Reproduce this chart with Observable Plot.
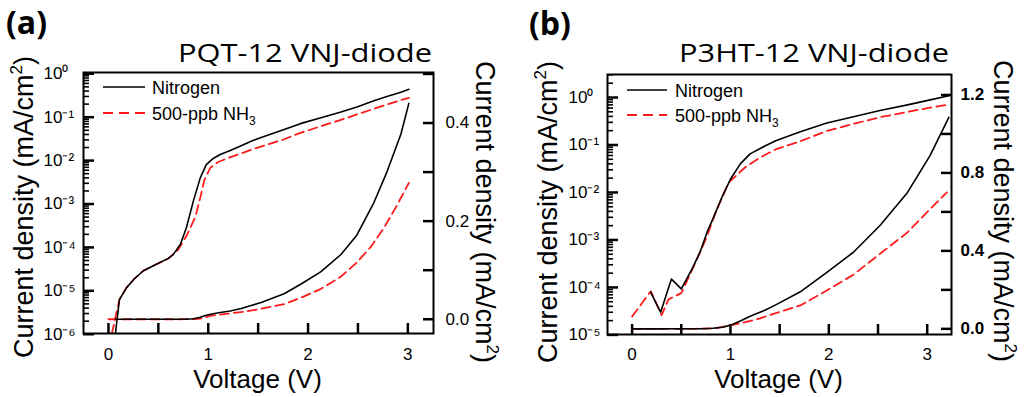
<!DOCTYPE html>
<html><head><meta charset="utf-8">
<script src="https://cdn.jsdelivr.net/npm/d3@7"></script>
<script src="https://cdn.jsdelivr.net/npm/@observablehq/plot@0.6"></script>
<style>
html,body{margin:0;padding:0;background:#fff;}
#chart{position:relative;width:1024px;height:397px;overflow:hidden;background:#fff;}
.layer{position:absolute;top:0;}
</style></head><body><div id="chart"></div>
<script>
// ---------- DATA ----------
// Panel (a) PQT-12 VNJ-diode : voltage (V) and current density (mA/cm^2)
const aN2V  = [0.07,0.11,0.18,0.26,0.35,0.48,0.6,0.65,0.72,0.78,0.85,0.92,0.98,1.05,1.12,1.22,1.33,1.43,1.53,1.76,1.93,2.13,2.33,2.49,2.66,2.79,2.93,3.01];
const aN2J  = [1.05e-6,6.3e-6,1.17e-5,1.9e-5,2.9e-5,4.1e-5,5.6e-5,6.9e-5,1.17e-4,2.8e-4,1.15e-3,4.0e-3,8.1e-3,1.12e-2,1.38e-2,1.7e-2,2.2e-2,2.8e-2,3.4e-2,5.2e-2,7.2e-2,9.7e-2,0.132,0.172,0.238,0.30,0.377,0.44];
const aNH3V = [0.0,0.05,0.11,0.18,0.26,0.35,0.48,0.6,0.7,0.78,0.87,0.92,0.96,1.02,1.1,1.2,1.36,1.45,1.76,1.93,2.13,2.33,2.49,2.63,2.76,2.89,3.01];
const aNH3J = [5e-7,1.5e-6,6.3e-6,1.17e-5,1.9e-5,2.9e-5,4.1e-5,5.5e-5,8.9e-5,1.8e-4,5.0e-4,1.4e-3,3.5e-3,6.8e-3,9.3e-3,1.15e-2,1.55e-2,1.85e-2,3.1e-2,4.4e-2,6.2e-2,8.7e-2,0.116,0.148,0.186,0.232,0.278];
// Panel (b) P3HT-12 VNJ-diode
const bN2V  = [0.0,0.19,0.29,0.40,0.50,0.61,0.69,0.77,0.82,0.92,1.0,1.1,1.2,1.35,1.46,1.71,1.98,2.25,2.52,2.80,3.03,3.22];
const bN2J  = [0,7.9e-5,3.0e-5,1.5e-4,9.3e-5,2.45e-4,5.5e-4,1.6e-3,2.75e-3,8.5e-3,1.9e-2,4.0e-2,6.5e-2,9.5e-2,0.123,0.19,0.29,0.393,0.53,0.70,0.89,1.085];
const bNH3V = [0.0,0.19,0.30,0.37,0.5,0.56,0.64,0.75,0.85,0.98,1.15,1.3,1.46,1.71,1.98,2.25,2.52,2.80,3.03,3.20];
const bNH3J = [2.45e-5,8.3e-5,2.6e-5,5.6e-5,7.6e-5,1.4e-4,3.2e-4,1.05e-3,3.8e-3,1.6e-2,3.4e-2,5.4e-2,8.1e-2,0.12,0.197,0.278,0.385,0.495,0.615,0.70];

// tick values / labels
const xTicks = [0,0.5,1,1.5,2,2.5,3];
const aLogMajor = [1e-6,1e-5,1e-4,1e-3,1e-2,1e-1,1];
const bLogMajor = [1e-5,1e-4,1e-3,1e-2,1e-1,1];
const aLinTicks = [0,0.1,0.2,0.3,0.4,0.5];
const aLinLabels = [0,0.2,0.4];
const bLinTicks = [0,0.2,0.4,0.6,0.8,1.0,1.2];
const bLinLabels = [0,0.4,0.8,1.2];
const seriesNames = ["Nitrogen","500-ppb NH"];
const titles = ["PQT-12 VNJ-diode","P3HT-12 VNJ-diode"];
const panelTags = ["(a)","(b)"];
const yTitle = "Current density (mA/cm";
const xTitle = "Voltage (V)";

// ---------- HELPERS ----------
const rows = (vs, js) => vs.map((v, i) => ({v, j: js[i]}));
const pos = arr => arr.filter(d => d.j > 0);
const minorTicks = (lo, hi) => { const t = []; for (let e = -7; e <= 1; e++) for (let m = 2; m <= 9; m++) { const v = m * Math.pow(10, e); if (v >= lo && v <= hi) t.push(v); } return t; };
const supMap = {"-":"⁻","0":"⁰","1":"¹","2":"²","3":"³","4":"⁴","5":"⁵","6":"⁶","7":"⁷","8":"⁸","9":"⁹"};
const fmtPow = d => "10" + String(Math.round(Math.log10(d))).replace(/./g, c => supMap[c]);
const FONT = "'Liberation Sans', Arial, sans-serif";
const RED = "#ff1a1a";

const chart = document.getElementById("chart");

function panel(o) {
  const W = 512, H = 397;
  const fw = W - o.ml - o.mr, fh = H - o.mt - o.mb;
  const common = {
    width: W, height: H,
    marginLeft: o.ml, marginRight: o.mr, marginTop: o.mt, marginBottom: o.mb,
    style: {background: "transparent", fontFamily: FONT, overflow: "visible", color: "#000"}
  };
  const n2 = rows(o.n2V, o.n2J), nh3 = rows(o.nh3V, o.nh3J);
  // left log axis labels, bottom axis labels, log curves, frame
  const logPlot = Plot.plot({
    ...common,
    x: {domain: o.xDomain},
    y: {type: "log", domain: o.logDomain},
    marks: [
      Plot.axisY(o.logMajor, {anchor: "left", tickSize: 0, tickPadding: o.logPad, textAnchor: "start", tickFormat: fmtPow, fontSize: 17, label: null}),
      Plot.axisX(xTicks, {anchor: "bottom", tickSize: 0, tickPadding: o.xPad, tickFormat: d => Number.isInteger(d) ? String(d) : "", fontSize: 17, label: null}),
      Plot.line(pos(nh3), {x: "v", y: "j", stroke: RED, strokeWidth: 1.8, strokeDasharray: "9,5", clip: true}),
      Plot.line(pos(n2), {x: "v", y: "j", stroke: "#000", strokeWidth: 1.6, clip: true}),
      Plot.frame({stroke: "#000", strokeWidth: 2})
    ]
  });
  // inward log ticks on the left axis
  const tickPlot = Plot.plot({
    ...common,
    x: {domain: o.xDomain, axis: null},
    y: {type: "log", domain: o.logDomain, axis: null},
    marks: [
      Plot.tickY(minorTicks(o.logDomain[0], o.logDomain[1]), {y: d => d, insetRight: fw - 6, stroke: "#000", strokeWidth: 1.6}),
      Plot.tickY(o.logMajor, {y: d => d, insetRight: fw - 11, stroke: "#000", strokeWidth: 2.5})
    ]
  });
  // right linear axis, inward bottom ticks, linear curves
  const linPlot = Plot.plot({
    ...common,
    x: {domain: o.xDomain, axis: null},
    y: {domain: o.linDomain},
    marks: [
      Plot.tickY(o.linTicks, {y: d => d, insetLeft: fw - 10, stroke: "#000", strokeWidth: 2.5}),
      Plot.tickX(xTicks, {x: d => d, insetTop: fh - 10, stroke: "#000", strokeWidth: 2.5}),
      Plot.axisY(o.linTicks, {anchor: "right", tickSize: 0, tickPadding: o.linPad, tickFormat: d => o.linLabels.includes(d) ? d.toFixed(1) : "", fontSize: 17, fontWeight: o.linBold ? "bold" : "normal", label: null}),
      Plot.line(nh3, {x: "v", y: "j", stroke: RED, strokeWidth: 1.8, strokeDasharray: "9,5", clip: true}),
      Plot.line(n2, {x: "v", y: "j", stroke: "#000", strokeWidth: 1.6, clip: true})
    ]
  });
  for (const p of [logPlot, linPlot, tickPlot]) {
    p.classList.add("layer");
    p.style.left = o.left + "px";
    chart.appendChild(p);
  }
}

panel({left: 0, ml: 83, mr: 79, mt: 72, mb: 64, xDomain: [-0.25, 3.257], xPad: 14,
  logDomain: [1.04e-6, 1.07], logMajor: aLogMajor, logPad: 40,
  linDomain: [-0.029, 0.503], linTicks: aLinTicks, linLabels: aLinLabels, linPad: 12, linBold: false,
  n2V: aN2V, n2J: aN2J, nh3V: aNH3V, nh3J: aNH3J});
panel({left: 512, ml: 95, mr: 73, mt: 74, mb: 63, xDomain: [-0.25, 3.247], xPad: 13,
  logDomain: [1.02e-5, 3.05], logMajor: bLogMajor, logPad: 39,
  linDomain: [-0.029, 1.305], linTicks: bLinTicks, linLabels: bLinLabels, linPad: 9, linBold: true,
  n2V: bN2V, n2J: bN2J, nh3V: bNH3V, nh3J: bNH3J});

// ---------- TEXT OVERLAY ----------
const svg = d3.select(chart).append("svg").attr("class", "layer").attr("width", 1024).attr("height", 397)
  .style("left", "0px").style("pointer-events", "none").style("font-family", FONT);

const P = [
  {tagX: 6, tagY: 34, titleX: 432, titleY: 62, titleLen: 254, ylX: 33, ylY: 207, yrX: 476, yrY: 212, xlX: 257.5,
   legX1: 103, legX2: 145, legY1: 87, legY2: 113, legTX: 152},
  {tagX: 529, tagY: 35, titleX: 949, titleY: 62, titleLen: 270, ylX: 557, ylY: 212, yrX: 994, yrY: 211, xlX: 778.5,
   legX1: 627, legX2: 667, legY1: 90, legY2: 115, legTX: 675}
];
P.forEach((p, k) => {
  svg.append("text").attr("x", p.tagX).attr("y", p.tagY).attr("font-family", "'Open Sans', sans-serif")
    .attr("font-weight", "bold").attr("font-size", 32).text(panelTags[k]);
  svg.append("text").attr("x", p.titleX - p.titleLen).attr("y", p.titleY)
    .attr("textLength", p.titleLen).attr("lengthAdjust", "spacingAndGlyphs")
    .attr("font-family", "'Open Sans', sans-serif").attr("font-size", 26).text(titles[k]);
  const yl = (x, y, rot) => {
    const t = svg.append("text").attr("transform", `translate(${x},${y}) rotate(${rot})`)
      .attr("text-anchor", "middle").attr("font-size", 27);
    t.append("tspan").text(yTitle);
    t.append("tspan").attr("font-size", 17).attr("dy", -11).text("2");
    t.append("tspan").attr("dy", 11).text(")");
  };
  yl(p.ylX, p.ylY, -90);
  yl(p.yrX, p.yrY, 90);
  svg.append("text").attr("x", p.xlX).attr("y", 388).attr("text-anchor", "middle").attr("font-size", 26).text(xTitle);
  // legend
  svg.append("line").attr("x1", p.legX1).attr("x2", p.legX2).attr("y1", p.legY1).attr("y2", p.legY1)
    .attr("stroke", "#000").attr("stroke-width", 1.6);
  svg.append("line").attr("x1", p.legX1).attr("x2", p.legX2).attr("y1", p.legY2).attr("y2", p.legY2)
    .attr("stroke", RED).attr("stroke-width", 1.8).attr("stroke-dasharray", "10,6");
  svg.append("text").attr("x", p.legTX).attr("y", p.legY1 + 7).attr("font-size", 18).text(seriesNames[0]);
  const t2 = svg.append("text").attr("x", p.legTX).attr("y", p.legY2 + 7).attr("font-size", 18);
  t2.append("tspan").text(seriesNames[1]);
  t2.append("tspan").attr("font-size", 12).attr("dy", 5).text("3");
});
</script></body></html>
